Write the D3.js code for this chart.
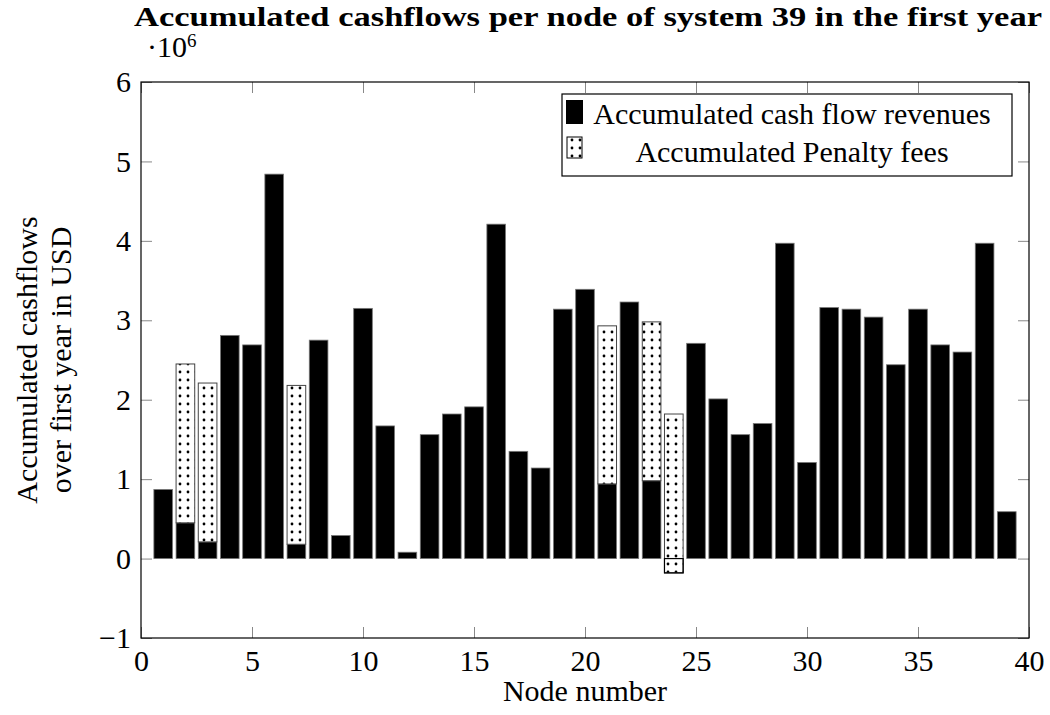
<!DOCTYPE html>
<html lang="en">
<head>
  <meta charset="UTF-8">
  <title>Accumulated cashflows per node</title>
  <script src="https://d3js.org/d3.v7.min.js"></script>
  <style>
    body { margin: 0; background: #fff; }
  </style>
</head>
<body>
<div id="chart"></div>
<script>
// node numbers
var nodes = [1, 2, 3, 4, 5, 6, 7, 8, 9, 10, 11, 12, 13, 14, 15, 16, 17, 18, 19, 20,
             21, 22, 23, 24, 25, 26, 27, 28, 29, 30, 31, 32, 33, 34, 35, 36, 37, 38, 39];

// accumulated cash flow revenues (x 10^6 USD)
var revenues = [0.87, 0.45, 0.21, 2.81, 2.69, 4.84, 0.18, 2.75, 0.29, 3.15,
                1.67, 0.08, 1.56, 1.82, 1.91, 4.21, 1.35, 1.14, 3.14, 3.39,
                0.94, 3.23, 0.98, -0.18, 2.71, 2.01, 1.56, 1.70, 3.97, 1.21,
                3.16, 3.14, 3.04, 2.44, 3.14, 2.69, 2.60, 3.97, 0.59];

// accumulated penalty fees (x 10^6 USD), stacked on top of the revenues
var penalties = [0, 2.00, 2.00, 0, 0, 0, 2.00, 0, 0, 0,
                 0, 0, 0, 0, 0, 0, 0, 0, 0, 0,
                 1.99, 0, 2.00, 2.00, 0, 0, 0, 0, 0, 0,
                 0, 0, 0, 0, 0, 0, 0, 0, 0];

var xTicks = [0, 5, 10, 15, 20, 25, 30, 35, 40];
var yTicks = [-1, 0, 1, 2, 3, 4, 5, 6];
var legendLabels = ["Accumulated cash flow revenues", "Accumulated Penalty fees"];

var W = 1050, H = 715;
var pL = 141, pR = 1029, pT = 82, pB = 638;
var tickLen = 11;
var fs = 30;
var serif = "'Liberation Serif', 'Times New Roman', serif";

var svg = d3.select("#chart").append("svg")
    .attr("width", W)
    .attr("height", H)
    .style("font-family", serif);

// dot pattern for the penalty bars
var defs = svg.append("defs");
var pat = defs.append("pattern")
    .attr("id", "dots")
    .attr("patternUnits", "userSpaceOnUse")
    .attr("width", 8)
    .attr("height", 8);
pat.append("rect").attr("width", 8).attr("height", 8).attr("fill", "#fff");
pat.append("circle").attr("cx", 4).attr("cy", 4).attr("r", 1.4).attr("fill", "#000");

var x = d3.scaleLinear().domain([0, 40]).range([pL, pR]);
var y = d3.scaleLinear().domain([-1, 6]).range([pB, pT]);
var bw = (x(1) - x(0)) * 0.84;

var data = nodes.map(function(n, i) {
  return { node: n, rev: revenues[i], pen: penalties[i] };
});

// revenue bars
svg.append("g").selectAll("rect")
  .data(data)
  .enter().append("rect")
    .attr("x", function(d) { return x(d.node) - bw / 2; })
    .attr("y", function(d) { return y(Math.max(0, d.rev)); })
    .attr("width", bw)
    .attr("height", function(d) { return Math.abs(y(d.rev) - y(0)); })
    .attr("fill", "#000")
    .attr("stroke", "#777")
    .attr("stroke-width", 0.8);

// penalty bars stacked on the revenues
svg.append("g").selectAll("rect")
  .data(data.filter(function(d) { return d.pen > 0; }))
  .enter().append("rect")
    .attr("x", function(d) { return x(d.node) - bw / 2; })
    .attr("y", function(d) { return y(d.rev + d.pen); })
    .attr("width", bw)
    .attr("height", function(d) { return y(d.rev) - y(d.rev + d.pen); })
    .attr("fill", "url(#dots)")
    .attr("stroke", "#444")
    .attr("stroke-width", 1);

// outline of negative revenue parts (they sit under the penalty fill)
svg.append("g").selectAll("rect")
  .data(data.filter(function(d) { return d.rev < 0 && d.pen > 0; }))
  .enter().append("rect")
    .attr("x", function(d) { return x(d.node) - bw / 2; })
    .attr("y", y(0))
    .attr("width", bw)
    .attr("height", function(d) { return y(d.rev) - y(0); })
    .attr("fill", "none")
    .attr("stroke", "#000")
    .attr("stroke-width", 1.2);

// axes, ticks point inwards
var fmtY = function(d) { return d < 0 ? "\u2212" + Math.abs(d) : d; };

var gx = svg.append("g")
    .attr("transform", "translate(0," + pB + ")")
    .call(d3.axisBottom(x).tickValues(xTicks).tickSize(-tickLen).tickPadding(12));
var gxt = svg.append("g")
    .attr("transform", "translate(0," + pT + ")")
    .call(d3.axisTop(x).tickValues(xTicks).tickSize(-tickLen).tickFormat(""));
var gy = svg.append("g")
    .attr("transform", "translate(" + pL + ",0)")
    .call(d3.axisLeft(y).tickValues(yTicks).tickSize(-tickLen).tickPadding(10).tickFormat(fmtY));
var gyr = svg.append("g")
    .attr("transform", "translate(" + pR + ",0)")
    .call(d3.axisRight(y).tickValues(yTicks).tickSize(-tickLen).tickFormat(""));

[gx, gxt, gy, gyr].forEach(function(g) {
  g.attr("font-family", null).attr("font-size", null);
  g.select(".domain").remove();
  g.selectAll("line").attr("stroke", "#888").attr("stroke-width", 1);
  g.selectAll("text")
    .style("font-family", serif)
    .style("font-size", fs + "px")
    .attr("fill", "#000");
});

// frame
svg.append("rect")
    .attr("x", pL).attr("y", pT)
    .attr("width", pR - pL).attr("height", pB - pT)
    .attr("fill", "none")
    .attr("stroke", "#000")
    .attr("stroke-width", 1.2);

function label(sel) {
  return sel.style("font-family", serif).attr("fill", "#000");
}

// title
label(svg.append("text"))
    .attr("x", 588).attr("y", 26)
    .attr("text-anchor", "middle")
    .attr("font-weight", "bold")
    .attr("font-size", "27px")
    .attr("textLength", 908)
    .attr("lengthAdjust", "spacingAndGlyphs")
    .text("Accumulated cashflows per node of system 39 in the first year");

// scale factor
var sc = label(svg.append("text"))
    .attr("x", 147).attr("y", 57)
    .attr("font-size", fs + "px");
sc.append("tspan").text("\u00b710");
sc.append("tspan").attr("font-size", "19px").attr("dy", -10).text("6");

// axis labels
label(svg.append("text"))
    .attr("x", (pL + pR) / 2).attr("y", 701)
    .attr("text-anchor", "middle")
    .attr("font-size", fs + "px")
    .text("Node number");

var yl = svg.append("g")
    .attr("transform", "translate(0," + (pT + pB) / 2 + ") rotate(-90)");
label(yl.append("text"))
    .attr("x", 0).attr("y", 37)
    .attr("text-anchor", "middle")
    .attr("font-size", fs + "px")
    .text("Accumulated cashflows");
label(yl.append("text"))
    .attr("x", 0).attr("y", 71)
    .attr("text-anchor", "middle")
    .attr("font-size", fs + "px")
    .text("over first year in USD");

// legend
var lg = svg.append("g");
lg.append("rect")
    .attr("x", 562).attr("y", 94)
    .attr("width", 450).attr("height", 82)
    .attr("fill", "#fff")
    .attr("stroke", "#000")
    .attr("stroke-width", 1.2);
lg.append("rect")
    .attr("x", 566).attr("y", 100)
    .attr("width", 17).attr("height", 24)
    .attr("fill", "#000");
lg.append("rect")
    .attr("x", 567).attr("y", 137)
    .attr("width", 15).attr("height", 21)
    .attr("fill", "url(#dots)")
    .attr("stroke", "#000")
    .attr("stroke-width", 1);
legendLabels.forEach(function(t, i) {
  label(lg.append("text"))
      .attr("x", 792).attr("y", 124 + i * 38)
      .attr("text-anchor", "middle")
      .attr("font-size", fs + "px")
      .text(t);
});
</script>
</body>
</html>
